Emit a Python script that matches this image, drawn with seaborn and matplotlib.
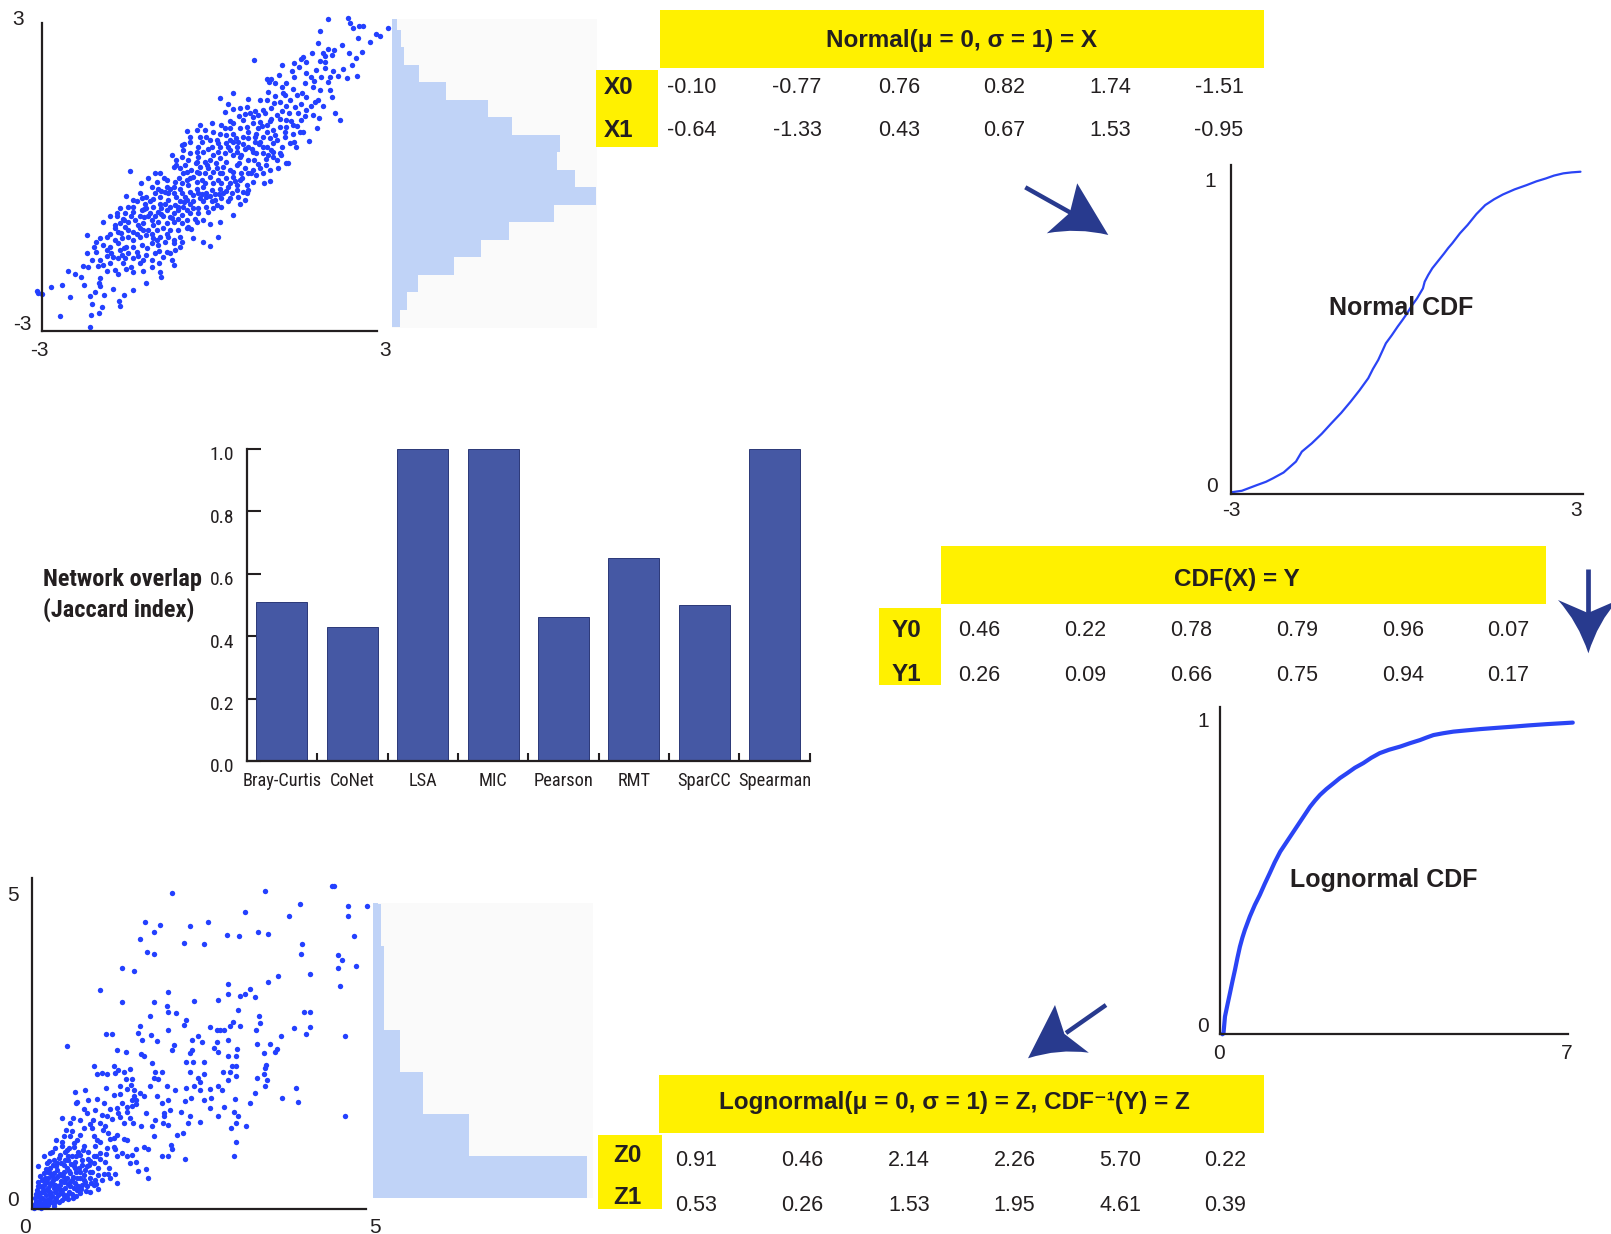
import matplotlib
matplotlib.use("Agg")
import matplotlib.pyplot as plt
from matplotlib import font_manager
from matplotlib.patches import Rectangle, PathPatch
from matplotlib.path import Path
import matplotlib.transforms as mtransforms
import numpy as np
import pandas as pd
import seaborn as sns

# ------------------------------------------------------------------ data
normal_x0 = [-0.10, -0.77, 0.76, 0.82, 1.74, -1.51]
normal_x1 = [-0.64, -1.33, 0.43, 0.67, 1.53, -0.95]
cdf_y0 = [0.46, 0.22, 0.78, 0.79, 0.96, 0.07]
cdf_y1 = [0.26, 0.09, 0.66, 0.75, 0.94, 0.17]
lognormal_z0 = [0.91, 0.46, 2.14, 2.26, 5.70, 0.22]
lognormal_z1 = [0.53, 0.26, 1.53, 1.95, 4.61, 0.39]

methods = ["Bray-Curtis", "CoNet", "LSA", "MIC", "Pearson", "RMT", "SparCC", "Spearman"]
overlap = [0.51, 0.43, 1.00, 1.00, 0.46, 0.65, 0.50, 1.00]

normal_cdf_x = [-3.00, -2.81, -2.55, -2.40, -2.28, -2.10, -1.89, -1.79, -1.62, -1.45, -1.29,
                -1.12, -0.96, -0.81, -0.66, -0.58, -0.49, -0.36, -0.26, -0.16, -0.08, 0.00,
                0.08, 0.17, 0.27, 0.30, 0.36, 0.43, 0.53, 0.63, 0.70, 0.77, 0.90, 1.03,
                1.18, 1.33, 1.48, 1.63, 1.83, 2.03, 2.20, 2.36, 2.50, 2.66, 2.80, 2.95]
normal_cdf_y = [0.000, 0.005, 0.023, 0.033, 0.044, 0.062, 0.096, 0.127, 0.153, 0.183, 0.215,
                0.248, 0.283, 0.318, 0.356, 0.385, 0.413, 0.465, 0.490, 0.517, 0.537, 0.558,
                0.582, 0.605, 0.636, 0.657, 0.678, 0.699, 0.722, 0.745, 0.762, 0.777, 0.808,
                0.834, 0.868, 0.896, 0.914, 0.929, 0.945, 0.958, 0.970, 0.979, 0.988, 0.995,
                0.998, 1.000]

lognormal_cdf_x = [0.05, 0.07, 0.10, 0.15, 0.20, 0.25, 0.30, 0.35, 0.40, 0.45, 0.50, 0.60,
                   0.70, 0.80, 0.90, 1.00, 1.10, 1.21, 1.31, 1.41, 1.51, 1.61, 1.71, 1.81,
                   1.91, 2.01, 2.14, 2.28, 2.41, 2.55, 2.71, 2.88, 3.04, 3.21, 3.40, 3.62,
                   3.82, 4.02, 4.15, 4.29, 4.49, 4.69, 4.95, 5.22, 5.55, 5.89, 6.20, 6.56, 7.09]
lognormal_cdf_y = [0.000, 0.003, 0.057, 0.095, 0.132, 0.170, 0.206, 0.245, 0.281, 0.310,
                   0.335, 0.378, 0.415, 0.447, 0.483, 0.517, 0.552, 0.586, 0.610, 0.634,
                   0.658, 0.682, 0.706, 0.730, 0.750, 0.768, 0.787, 0.805, 0.822, 0.837,
                   0.855, 0.870, 0.887, 0.902, 0.913, 0.923, 0.934, 0.944, 0.952, 0.960,
                   0.966, 0.971, 0.975, 0.979, 0.983, 0.987, 0.991, 0.995, 1.000]

# marginal histogram of X1 (bottom bin first)
normal_hist_edges = [-2.93, -2.59, -2.25, -1.92, -1.58, -1.24, -0.90, -0.57, -0.23, 0.11,
                     0.45, 0.78, 1.12, 1.46, 1.80, 2.13, 2.47, 2.81, 3.14]
normal_hist_counts = [5, 10, 17, 41, 59, 78, 108, 136, 122, 110, 112, 80, 64, 36, 18, 8, 6, 3]

# marginal histogram of Z1 (bottom bin first)
lognormal_hist_edges = [0.16, 0.79, 1.42, 2.05, 2.68, 3.31, 3.94, 4.57, 5.20]
lognormal_hist_counts = [429, 192, 99, 53, 21, 21, 15, 10]

# bivariate normal sample (X0, X1)
normal_points = [
    (2.00, 3.02), (2.35, 3.04), (2.37, 2.94), (2.42, 2.85), (2.54, 2.88), (2.61, 2.88), (3.04, 2.85),
    (1.85, 2.79), (2.83, 2.74), (2.90, 2.70), (2.52, 2.66), (2.73, 2.57), (1.82, 2.56), (2.23, 2.52),
    (2.00, 2.44), (2.10, 2.42),
    (1.71, 2.37), (1.90, 2.36), (2.36, 2.37), (2.59, 2.39), (1.94, 2.31), (2.07, 2.32), (1.56, 2.29),
    (0.71, 2.23), (1.53, 2.24), (2.48, 2.26), (1.62, 2.20), (1.40, 2.18), (1.19, 2.14), (1.85, 2.21),
    (2.41, 2.14), (1.49, 2.10), (1.94, 2.07), (1.78, 2.04), (1.37, 2.02), (2.08, 2.02), (1.62, 1.98),
    (2.16, 1.93), (2.02, 1.91), (1.88, 1.91), (2.49, 1.92), (2.32, 1.89), (0.93, 1.86), (1.01, 1.87),
    (0.97, 1.81), (1.75, 1.83), (1.26, 1.79), (1.59, 1.78), (1.07, 1.78), (2.03, 1.66),
    (1.19, 1.71), (1.73, 1.70), (1.38, 1.68), (1.22, 1.59), (0.96, 1.62), (1.07, 1.53), (1.33, 1.46),
    (1.46, 1.55), (1.62, 1.52), (1.82, 1.46), (2.06, 1.51), (0.35, 1.59), (0.12, 1.50), (0.81, 1.46),
    (0.93, 1.46), (1.16, 1.42), (1.27, 1.34), (1.42, 1.33), (1.53, 1.38), (1.77, 1.42), (1.91, 1.34),
    (2.11, 1.20), (0.46, 1.31), (0.35, 1.29), (0.58, 1.33), (0.21, 1.23), (0.64, 1.20), (0.87, 1.26),
    (1.01, 1.30), (1.10, 1.17), (1.32, 1.20), (1.62, 1.26), (1.73, 1.17), (0.69, 1.13), (0.78, 1.17),
    (2.20, 1.07), (1.84, 1.12), (1.81, 0.91), (1.66, 0.67), (1.41, 0.65), (1.44, 0.56), (1.20, 0.56),
    (-0.23, 0.97), (-0.03, 1.01), (-0.46, 0.86), (-0.55, 0.59), (-0.23, 0.75), (-0.12, 0.75),
    (0.06, 0.68), (0.14, 0.97), (0.29, 1.06), (0.46, 0.91), (0.58, 0.94), (0.69, 1.01), (0.81, 1.04),
    (0.93, 0.97), (1.04, 0.88), (1.16, 0.94), (1.27, 0.94), (1.39, 0.81), (1.53, 1.07), (1.56, 0.85),
    (0.35, 0.81), (0.52, 0.75), (0.75, 0.81), (0.87, 0.75), (0.98, 0.72), (1.10, 0.68), (1.33, 0.62),
    (0.09, 0.62), (0.23, 0.62), (0.41, 0.56), (0.61, 0.56), (0.72, 0.65), (0.87, 0.56), (1.01, 0.49),
    (-0.09, 0.52), (-0.26, 0.56), (0.00, 0.85), (0.23, 0.78), (-0.14, 0.88), (1.24, 0.75), (0.61, 0.85),
    (0.35, 1.01), (0.20, 0.91),
    (1.26, 0.25), (1.30, 0.25), (1.04, 0.35), (0.91, 0.31), (0.89, -0.15), (0.98, -0.10), (0.69, -0.12),
    (0.58, -0.18), (-0.72, 0.40), (-0.64, 0.30), (-0.49, 0.20), (-0.41, 0.43), (-0.26, 0.36),
    (-0.17, 0.46), (0.00, 0.40), (0.12, 0.33), (0.23, 0.27), (0.35, 0.40), (0.46, 0.36), (0.61, 0.30),
    (0.75, 0.43), (0.87, 0.43), (1.04, 0.46), (-0.38, 0.11), (-0.23, 0.17), (-0.09, 0.14), (0.06, 0.14),
    (0.17, 0.17), (0.29, 0.11), (0.41, 0.20), (0.55, 0.14), (0.69, 0.11), (0.81, 0.14), (-0.53, 0.04),
    (-0.35, -0.02), (-0.20, -0.09), (-0.06, -0.02), (0.09, -0.09), (0.23, -0.05), (0.35, -0.02),
    (0.46, -0.09), (-1.45, 0.09), (-1.01, 0.04), (-0.93, 0.04), (-1.13, -0.05), (-0.98, -0.12),
    (-0.81, -0.09), (-0.67, -0.12), (-0.55, -0.15),
    (-0.69, -0.22), (-0.58, -0.25), (-0.43, -0.18), (-0.29, -0.25), (-0.17, -0.22), (-0.03, -0.28),
    (0.12, -0.25), (0.26, -0.22), (0.41, -0.28), (0.52, -0.31), (0.61, -0.28), (-0.93, -0.41),
    (-0.78, -0.34), (-0.64, -0.41), (-0.49, -0.41), (-0.35, -0.38), (-0.23, -0.44), (-0.12, -0.41),
    (0.03, -0.47), (0.14, -0.44), (0.29, -0.44), (0.43, -0.41), (0.55, -0.47), (0.58, -0.34),
    (-1.16, -0.41), (-1.01, -0.34), (-1.51, -0.40), (-1.33, -0.50), (-1.19, -0.54), (-1.04, -0.60),
    (-0.93, -0.54), (-0.78, -0.47), (-0.67, -0.57), (-0.52, -0.60), (-0.41, -0.54), (-0.26, -0.63),
    (-0.12, -0.60), (0.06, -0.57), (0.14, -0.60), (0.26, -0.50), (0.46, -0.54), (0.35, -0.76),
    (-1.68, -0.73), (-1.53, -0.73), (-1.39, -0.70), (-1.24, -0.67), (-1.10, -0.73), (-0.96, -0.70),
    (-0.81, -0.67), (-0.69, -0.73), (-0.55, -0.76), (-0.41, -0.73), (-0.26, -0.73), (-0.09, -0.70),
    (-0.17, -0.86), (-0.32, -0.83), (-0.46, -0.86),
    (-1.91, -0.89), (-1.68, -0.79), (-1.62, -0.92), (-1.48, -0.89), (-1.36, -0.86), (-1.22, -0.92),
    (-1.07, -0.86), (-0.96, -0.89), (-0.81, -0.92), (-0.69, -0.89), (-0.55, -0.92), (-0.43, -0.99),
    (-0.29, -0.89), (-0.06, -0.94), (0.12, -0.89), (-1.71, -1.02), (-1.53, -0.99), (-1.39, -1.08),
    (-1.27, -1.02), (-1.13, -1.05), (-0.98, -1.05), (-0.87, -1.02), (-0.75, -1.05), (-0.61, -1.05),
    (-0.46, -1.02), (-0.38, -1.04), (-0.58, -1.18), (-0.69, -1.24), (-1.97, -1.21), (-1.85, -1.18),
    (-1.71, -1.24), (-1.59, -1.21), (-1.48, -1.18), (-1.33, -1.12), (-1.16, -1.15), (-1.04, -1.21),
    (-0.93, -1.18), (-0.81, -1.12), (-0.35, -1.21), (-0.17, -1.28), (-0.06, -1.36), (0.09, -1.18),
    (-2.20, -1.15), (-1.91, -1.34), (-1.80, -1.37), (-1.65, -1.31), (-1.51, -1.37), (-1.39, -1.37),
    (-1.24, -1.34), (-1.07, -1.31), (-0.96, -1.34), (-0.84, -1.28), (-0.69, -1.31), (-0.58, -1.37),
    (-0.55, -1.28),
    (-2.20, -1.50), (-2.03, -1.47), (-1.85, -1.44), (-1.74, -1.57), (-1.59, -1.53), (-1.48, -1.50),
    (-1.33, -1.47), (-1.16, -1.53), (-1.01, -1.50), (-0.87, -1.57), (-0.81, -1.47), (-0.67, -1.44),
    (-2.11, -1.63), (-2.26, -1.74), (-2.17, -1.76), (-1.97, -1.63), (-1.91, -1.73), (-1.80, -1.69),
    (-1.65, -1.60), (-1.56, -1.69), (-1.42, -1.76), (-1.27, -1.69), (-1.07, -1.76), (-0.94, -1.69),
    (-0.72, -1.63), (-0.69, -1.73), (-2.52, -1.85), (-2.40, -1.90), (-1.85, -1.85), (-1.71, -1.82),
    (-1.51, -1.81), (-1.39, -1.87), (-1.22, -1.85), (-0.93, -1.87), (-0.90, -1.96), (-1.16, -2.08),
    (-1.97, -1.98),
    (-3.07, -2.23), (-2.98, -2.29), (-2.81, -2.16), (-2.62, -2.11), (-2.49, -2.34), (-2.24, -2.11),
    (-2.14, -2.32), (-1.98, -2.08), (-1.97, -2.14), (-1.90, -2.31), (-1.74, -2.18), (-1.55, -2.31),
    (-1.39, -2.20), (-1.64, -2.43), (-1.62, -2.52), (-1.94, -2.53), (-2.11, -2.48), (-1.98, -2.65),
    (-2.13, -2.70), (-2.66, -2.72), (-2.14, -2.93), (-3.04, -2.26),
    (-0.41, 0.65), (-0.29, 0.88), (-0.20, 0.65), (-0.06, 0.68), (0.12, 0.56), (0.29, 0.68), (0.43, 0.65),
    (0.55, 0.52), (0.69, 0.46), (0.81, 0.65), (0.93, 0.56), (1.04, 0.62), (1.16, 0.43), (0.29, 0.49),
    (0.41, 0.46), (0.49, 0.40), (0.09, 0.46), (0.20, 0.43), (-0.06, 0.30), (-0.14, 0.27), (-0.29, 0.27),
    (-0.43, 0.30), (-0.55, 0.36), (-0.69, 0.17), (-0.58, 0.14), (-0.46, 0.07), (-0.29, 0.07),
    (-0.14, 0.04), (0.00, 0.07), (0.12, 0.04), (0.35, 0.07), (0.49, 0.04), (0.61, 0.04), (0.75, 0.01),
    (0.87, 0.04), (0.98, 0.11), (-0.46, -0.09), (-0.29, -0.12), (-0.14, -0.15), (0.00, -0.15),
    (0.14, -0.15), (0.29, -0.15), (0.41, -0.18), (-0.81, -0.22), (-0.96, -0.25), (-1.07, -0.22),
    (-0.84, -0.31), (-0.69, -0.33), (-0.55, -0.33), (-0.41, -0.31), (-0.26, -0.33), (-0.12, -0.34),
    (0.03, -0.36), (0.17, -0.34), (0.32, -0.34), (-1.27, -0.34), (-1.39, -0.47), (-1.24, -0.44),
    (-1.10, -0.50), (-0.84, -0.54), (-0.58, -0.50), (-0.46, -0.47), (-0.17, -0.50), (-0.03, -0.50),
    (-1.16, -0.63), (-0.90, -0.63), (-0.75, -0.60), (-0.61, -0.67), (-0.46, -0.67), (-0.35, -0.63),
    (0.00, -0.63), (-1.62, -0.63), (-1.48, -0.60), (-1.80, -0.79), (-1.56, -0.83), (-1.42, -0.79),
    (-1.27, -0.79), (-1.13, -0.79), (-1.01, -0.79), (-0.87, -0.79), (-0.72, -0.81), (-0.61, -0.83),
    (-1.27, -1.18), (-1.22, -1.05), (-1.07, -1.12), (-1.80, -1.12), (-1.65, -1.08), (-1.48, -1.05),
    (-0.98, -1.24), (-0.78, -1.18), (-2.03, -1.28), (-1.77, -1.50), (-1.62, -1.44), (-1.39, -1.60),
    (-1.22, -1.63), (-1.07, -1.63), (-2.08, -1.37), (-1.53, -1.60), (0.61, 0.72), (0.72, 0.75),
    (1.07, 0.78), (0.78, 0.91), (0.52, 1.07), (0.93, 0.85), (1.24, 0.85), (0.29, 0.91), (0.12, 0.81),
    (-0.03, 0.56), (0.35, 0.65), (-0.29, 0.46), (-0.52, 0.49), (1.16, 1.10), (1.27, 1.07), (1.01, 1.10),
    (1.39, 0.97), (1.48, 1.20), (1.51, 0.85),
    (-1.30, -0.95), (-1.20, -0.80), (-1.05, -0.95), (-0.90, -0.75), (-0.75, -0.80), (-0.62, -0.60),
    (-0.50, -0.52), (-0.35, -0.50), (-0.20, -0.35), (-0.05, -0.40), (0.10, -0.35), (0.22, -0.30),
    (0.38, -0.10), (0.50, -0.05), (0.65, 0.05), (0.78, 0.22), (0.92, 0.20), (1.10, 0.30), (1.18, 0.40),
    (0.68, 0.52), (0.52, 0.60), (0.40, 0.72), (0.25, 0.55), (0.05, 0.25), (-0.10, 0.20), (-0.25, 0.05),
    (-0.40, -0.05), (-0.60, -0.05), (-0.75, -0.25), (-0.90, -0.30), (-1.05, -0.45), (-1.20, -0.65),
    (-1.40, -0.60), (-1.55, -0.85), (-1.70, -0.95), (-1.60, -1.10), (-1.40, -1.25), (-1.15, -1.40),
    (-0.95, -1.45), (-0.75, -1.50), (-1.30, -1.55), (-1.55, -1.40), (-1.85, -1.55), (-2.00, -1.75),
    (-1.65, -1.90), (-2.30, -1.95), (-2.05, -2.25), (0.85, 0.95), (0.98, 1.05), (1.20, 1.25),
    (1.35, 1.05), (1.45, 0.95), (1.60, 1.15), (1.70, 1.35), (1.55, 1.60), (1.25, 1.55), (1.05, 1.40),
    (0.90, 1.20), (0.72, 1.25), (0.55, 1.18), (1.85, 1.65), (2.00, 1.80), (2.25, 2.05), (1.95, 2.20),
    (1.70, 1.90), (1.40, 1.90), (1.15, 1.95), (0.80, 0.60), (0.95, 0.40), (1.12, 0.15), (0.70, 0.30),
    (0.45, 0.25), (0.15, 0.05), (-0.30, 0.25), (-0.65, 0.20), (-0.85, -0.05), (-1.25, -0.15),
    (-0.50, 0.60), (-0.40, 0.75), (0.45, 1.15), (0.60, 1.48), (0.25, 1.38),
]

# bivariate lognormal sample (Z0, Z1)
lognormal_points = [
    (2.09, 4.74), (3.49, 4.77), (4.50, 4.84), (4.53, 4.85), (4.01, 4.57), (4.73, 4.55), (5.02, 4.54),
    (3.19, 4.45), (3.85, 4.39), (4.74, 4.39), (1.69, 4.31), (1.91, 4.26), (1.82, 4.16), (2.37, 4.25),
    (2.63, 4.31), (2.92, 4.11), (3.10, 4.10), (3.38, 4.15), (3.54, 4.13), (4.83, 4.09), (1.61, 4.05),
    (2.28, 3.99), (2.58, 3.98), (4.04, 3.98), (4.03, 3.83), (1.72, 3.85), (1.82, 3.82), (4.59, 3.81),
    (4.64, 3.73), (4.59, 3.61), (4.86, 3.65), (1.34, 3.61), (1.52, 3.57), (4.17, 3.53), (4.62, 3.35),
    (1.01, 3.28), (1.34, 3.10), (1.82, 3.10), (2.03, 3.25), (3.54, 3.41), (3.69, 3.49), (3.26, 3.30),
    (3.19, 3.23), (3.34, 3.18), (3.11, 3.19), (2.94, 3.37), (2.94, 3.23), (2.79, 3.13), (2.43, 3.12),
    (2.02, 3.04), (2.16, 2.94), (1.76, 2.90), (2.04, 2.95), (2.27, 2.76), (2.31, 2.83), (2.03, 2.69),
    (1.61, 2.74), (1.59, 2.64), (1.64, 2.54), (1.78, 2.61), (1.87, 2.52), (1.19, 2.62), (1.11, 2.63),
    (0.52, 2.45), (1.27, 2.39), (1.41, 2.35), (1.63, 2.32), (1.68, 2.29), (2.09, 2.39), (2.12, 2.46),
    (2.40, 2.53), (2.49, 2.59), (2.54, 2.50), (2.39, 2.39), (2.37, 2.34), (2.67, 2.73), (2.77, 2.69),
    (2.82, 2.69), (2.88, 2.69), (2.96, 2.75), (3.01, 2.81), (3.11, 2.74), (3.36, 2.68), (3.41, 2.79),
    (3.40, 2.89), (3.09, 2.99), (4.08, 2.96), (4.17, 2.96), (3.92, 2.71), (4.16, 2.73), (4.11, 2.62),
    (4.69, 2.59), (3.73, 2.60), (3.67, 2.40), (3.64, 2.36), (3.56, 2.48), (3.37, 2.48), (3.48, 2.34),
    (3.07, 2.40), (3.06, 2.29), (2.94, 2.53), (2.77, 2.50), (2.72, 2.41), (2.79, 2.35), (2.93, 2.30),
    (2.99, 2.15), (3.06, 2.15), (2.30, 2.21), (2.41, 2.20), (2.57, 2.21), (2.37, 2.05), (2.58, 2.03),
    (2.49, 1.96), (1.79, 2.19), (1.84, 2.06), (1.94, 2.06), (1.82, 1.96), (1.89, 1.95), (1.76, 1.84),
    (2.02, 1.85), (2.14, 1.78), (2.30, 1.81), (2.42, 1.84), (2.52, 1.90), (2.51, 1.79), (2.38, 1.66),
    (2.29, 1.62), (2.57, 1.64), (2.67, 1.80), (2.79, 1.84), (2.86, 2.05), (2.94, 1.93), (2.97, 2.05),
    (3.06, 2.00), (2.84, 1.79), (2.68, 1.66), (2.67, 1.51), (3.04, 1.65), (2.88, 1.53), (2.78, 1.39),
    (3.02, 1.45), (3.09, 1.40), (2.98, 1.21), (3.06, 1.29), (3.21, 1.25), (3.06, 1.01), (3.02, 0.79),
    (3.34, 1.74), (3.37, 1.96), (3.49, 2.11), (3.48, 2.03), (3.51, 2.16), (3.52, 1.93), (3.49, 1.85),
    (3.27, 1.59), (3.74, 1.66), (3.95, 1.81), (3.98, 1.61), (4.69, 1.39), (2.23, 1.46), (2.37, 1.40),
    (2.34, 1.29), (2.26, 1.14), (2.17, 1.11), (2.08, 0.96), (2.10, 0.90), (2.04, 0.80), (1.94, 0.80),
    (2.29, 0.75), (2.52, 1.31), (1.79, 1.25), (1.71, 1.44), (1.63, 1.24), (1.51, 1.29), (1.42, 1.45),
    (1.42, 1.53), (1.49, 1.54), (1.56, 1.58), (1.67, 1.69), (1.62, 1.74), (1.87, 1.69), (1.95, 1.59),
    (2.03, 1.64), (2.07, 1.49), (1.97, 1.44), (1.98, 1.39), (2.04, 1.26), (1.96, 1.29), (1.84, 1.34),
    (1.82, 1.09), (1.74, 0.90), (1.67, 0.93), (1.56, 0.90), (1.49, 0.81), (1.56, 0.70), (1.70, 0.60),
    (1.73, 0.46), (1.58, 0.57), (1.47, 0.69), (1.42, 0.79), (1.34, 0.84), (1.27, 0.79), (1.22, 0.93),
    (1.22, 1.07), (1.17, 1.05), (1.13, 1.14), (1.06, 1.19), (1.27, 1.11), (1.37, 1.05), (1.42, 1.04),
    (1.24, 0.90), (1.12, 0.91), (1.02, 1.00), (0.97, 1.04), (0.89, 1.21), (0.86, 1.28), (0.77, 1.21),
    (0.72, 1.11), (0.67, 1.04), (0.63, 0.93), (0.76, 0.88), (0.84, 0.85), (0.94, 0.94), (1.02, 0.84),
    (1.02, 0.75), (0.93, 0.69), (0.82, 0.65), (0.86, 0.56), (0.99, 0.51), (1.04, 0.44), (1.13, 0.53),
    (1.24, 0.53), (1.27, 0.39), (1.17, 0.46), (0.99, 0.30), (0.86, 0.26), (0.72, 0.24), (0.61, 0.16),
    (0.69, 0.34), (0.78, 0.44), (0.72, 0.56), (0.62, 0.64), (0.49, 0.73), (0.42, 0.81), (0.32, 0.74),
    (0.22, 0.69), (0.17, 0.54), (0.09, 0.41), (0.12, 0.34), (0.22, 0.29), (0.32, 0.31), (0.42, 0.36),
    (0.52, 0.46), (0.59, 0.44), (0.39, 0.21), (0.27, 0.16), (0.17, 0.14), (0.07, 0.09), (0.04, 0.04),
    (0.12, 0.06), (0.19, 0.11), (0.32, 0.09), (0.47, 0.16), (0.52, 0.21), (0.44, 0.14), (0.67, 0.29),
    (0.57, 0.54), (0.47, 0.56), (0.37, 0.59), (0.27, 0.61), (0.39, 0.49), (0.29, 0.41), (0.24, 0.46),
    (0.14, 0.26), (0.08, 0.20), (0.04, 0.16), (0.44, 0.95), (0.44, 1.36), (0.61, 1.36), (0.66, 1.59),
    (0.64, 1.76), (0.67, 1.61), (0.79, 1.79), (0.83, 1.64), (0.93, 2.14), (0.97, 2.03), (1.04, 2.04),
    (1.12, 2.03), (1.22, 2.14), (1.24, 2.04), (1.29, 2.08), (1.37, 2.06), (1.47, 2.10), (1.49, 1.95),
    (1.48, 1.86), (1.40, 1.95), (1.31, 1.84), (1.11, 1.81), (1.22, 1.71), (1.32, 1.73), (1.42, 1.80),
    (1.52, 1.79), (1.52, 1.69), (1.56, 1.64), (1.49, 1.63), (1.35, 1.59), (1.27, 1.51), (1.17, 1.50),
    (1.07, 1.59), (0.97, 1.65), (0.94, 1.48), (0.91, 1.33), (1.04, 1.41), (1.12, 1.39), (1.19, 1.35),
    (1.28, 1.44), (1.32, 1.38), (1.38, 1.29), (1.46, 1.36), (1.02, 1.29), (1.09, 1.25), (0.72, 1.33),
    (0.57, 1.29), (0.51, 1.19), (0.57, 1.09), (0.62, 0.99), (0.52, 0.89), (0.34, 0.91), (0.47, 1.10),
    (0.36, 1.04), (0.27, 0.84), (0.17, 0.79), (0.09, 0.64), (0.77, 1.50), (0.82, 1.44),
    (0.06, 0.11), (0.09, 0.08), (0.14, 0.16), (0.21, 0.21), (0.26, 0.26), (0.34, 0.26), (0.41, 0.29),
    (0.49, 0.31), (0.57, 0.34), (0.64, 0.39), (0.74, 0.36), (0.82, 0.34), (0.92, 0.36), (0.11, 0.24),
    (0.17, 0.36), (0.26, 0.36), (0.34, 0.36), (0.47, 0.41), (0.57, 0.40), (0.67, 0.46), (0.77, 0.51),
    (0.87, 0.46), (0.94, 0.44), (0.07, 0.29), (0.14, 0.44), (0.23, 0.56), (0.32, 0.54), (0.44, 0.51),
    (0.52, 0.61), (0.64, 0.71), (0.74, 0.74), (0.83, 0.75), (0.92, 0.79), (0.72, 0.81), (0.59, 0.79),
    (0.49, 0.85), (0.54, 0.74), (0.37, 0.69), (0.27, 0.54), (0.19, 0.39), (0.02, 0.06), (0.08, 0.03),
    (0.16, 0.04), (0.24, 0.06), (0.34, 0.14), (0.42, 0.24),
    (0.03, 0.02), (0.05, 0.10), (0.10, 0.12), (0.13, 0.02), (0.20, 0.05), (0.22, 0.14), (0.28, 0.10),
    (0.30, 0.20), (0.36, 0.17), (0.11, 0.18), (0.16, 0.26), (0.24, 0.31), (0.06, 0.22), (0.19, 0.47),
    (0.31, 0.44), (0.38, 0.35), (0.44, 0.28), (0.49, 0.44), (0.55, 0.25), (0.61, 0.48), (0.66, 0.55),
    (0.70, 0.62), (0.47, 0.66), (0.41, 0.52), (0.12, 0.50), (0.09, 0.35), (0.35, 0.64), (0.58, 0.68),
    (0.79, 0.58), (0.85, 0.66), (0.40, 0.77), (0.55, 0.91), (0.68, 0.86), (0.25, 0.72),
    (0.15, 0.08), (0.25, 0.13), (0.33, 0.05), (0.40, 0.11), (0.46, 0.22), (0.53, 0.15), (0.60, 0.23),
    (0.66, 0.20), (0.73, 0.30), (0.80, 0.27), (0.88, 0.39), (0.96, 0.37), (1.08, 0.52), (1.15, 0.61),
    (0.18, 0.28), (0.27, 0.23), (0.35, 0.30), (0.43, 0.42), (0.53, 0.37), (0.62, 0.32), (0.71, 0.46),
    (0.79, 0.41), (0.90, 0.55), (0.98, 0.62), (1.09, 0.70), (0.14, 0.33), (0.22, 0.40), (0.29, 0.49),
    (0.36, 0.46), (0.46, 0.50), (0.55, 0.57), (0.64, 0.62), (0.75, 0.66), (0.86, 0.72), (0.96, 0.80),
    (1.10, 0.82), (0.20, 0.60), (0.31, 0.66), (0.43, 0.69), (0.53, 0.80), (0.66, 0.79), (0.78, 0.94),
    (0.92, 1.10), (0.30, 0.86), (0.45, 1.01), (0.60, 1.17),
]

# ------------------------------------------------------------------ style
W, H = 1611, 1234
INK = "#231f20"
DOT = "#2340ff"
LINE = "#2a44f5"
HIST = "#c0d3f7"
BAR = "#4558a4"
YELLOW = "#fff100"
ARROW = "#283a8e"

sns.set_style("white")
avail = {f.name for f in font_manager.fontManager.ttflist}
SANS = "Liberation Sans" if "Liberation Sans" in avail else "DejaVu Sans"
NARROW = next((n for n in ["Liberation Sans Narrow", "DejaVu Sans Condensed", "Roboto Condensed"]
               if n in avail), None)
NS = 1.0
if NARROW is None:
    NARROW, NS = SANS, 0.86
REG = [SANS, "DejaVu Sans"]
NAR = [NARROW, "DejaVu Sans"]
plt.rcParams["font.family"] = REG

fig = plt.figure(figsize=(W / 100, H / 100), dpi=100)
fig.patch.set_facecolor("white")


def px_axes(l, t, r, b):
    return fig.add_axes([l / W, 1 - b / H, (r - l) / W, (b - t) / H])


def plain_axes(ax):
    ax.set_xticks([])
    ax.set_yticks([])
    ax.set_xlabel("")
    ax.set_ylabel("")
    for side in ("top", "right"):
        ax.spines[side].set_visible(False)
    for side in ("left", "bottom"):
        ax.spines[side].set_color(INK)
        ax.spines[side].set_linewidth(1.6)
    ax.set_facecolor("none")


def hist_axes(ax):
    ax.set_xticks([])
    ax.set_yticks([])
    ax.set_xlabel("")
    ax.set_ylabel("")
    for s in ax.spines.values():
        s.set_visible(False)
    ax.set_facecolor("#fafafa")


# ---- normal scatter + marginal
nd = pd.DataFrame(normal_points, columns=["x0", "x1"])
ax1 = px_axes(41.7, 22.7, 376.7, 331)
sns.scatterplot(data=nd, x="x0", y="x1", ax=ax1, color=DOT, s=15, linewidth=0, clip_on=False)
ax1.set_xlim(-2.98, 2.84)
ax1.set_ylim(-3.0, 2.95)
plain_axes(ax1)

axh1 = px_axes(392.3, 19, 597, 328.3)
nc = [(a + b) / 2 for a, b in zip(normal_hist_edges[:-1], normal_hist_edges[1:])]
sns.histplot(y=nc, weights=normal_hist_counts, bins=normal_hist_edges, ax=axh1,
             color=HIST, alpha=1, linewidth=0)
axh1.set_ylim(-2.948, 3.019)
axh1.set_xlim(0, 136.7)
hist_axes(axh1)

# ---- lognormal scatter + marginal
ld = pd.DataFrame(lognormal_points, columns=["z0", "z1"])
ax2 = px_axes(32.3, 878.3, 365.7, 1209)
sns.scatterplot(data=ld, x="z0", y="z1", ax=ax2, color=DOT, s=15, linewidth=0, clip_on=False)
ax2.set_xlim(0, 5.0)
ax2.set_ylim(0, 4.96)
plain_axes(ax2)

axh2 = px_axes(373, 902.7, 593.3, 1198.3)
lc = [(a + b) / 2 for a, b in zip(lognormal_hist_edges[:-1], lognormal_hist_edges[1:])]
sns.histplot(y=lc, weights=lognormal_hist_counts, bins=lognormal_hist_edges, ax=axh2,
             color=HIST, alpha=1, linewidth=0)
axh2.set_ylim(0.16, 4.59)
axh2.set_xlim(0, 440.6)
hist_axes(axh2)

# ---- CDF curves
ax3 = px_axes(1230.7, 165, 1583.4, 494.3)
sns.lineplot(x=normal_cdf_x, y=normal_cdf_y, ax=ax3, color=LINE, linewidth=1.6,
             estimator=None, sort=False)
ax3.set_xlim(-3, 3)
ax3.set_ylim(-0.006, 1.021)
plain_axes(ax3)

ax4 = px_axes(1220, 706.7, 1568.3, 1034.3)
sns.lineplot(x=lognormal_cdf_x, y=lognormal_cdf_y, ax=ax4, color=LINE, linewidth=3.0,
             estimator=None, sort=False, clip_on=False)
ax4.set_xlim(0, 7)
ax4.set_ylim(0, 1.051)
plain_axes(ax4)

# ---- network overlap bars
axb = px_axes(246.8, 449, 809.6, 761)
sns.barplot(x=methods, y=overlap, ax=axb, color=BAR, saturation=1, width=0.725,
            edgecolor="#2b3878", linewidth=0.7)
axb.set_xlim(-0.5, 7.5)
axb.set_ylim(0, 1.0)
axb.set_xlabel("")
axb.set_ylabel("")
for side in ("top", "right"):
    axb.spines[side].set_visible(False)
for side in ("left", "bottom"):
    axb.spines[side].set_color(INK)
    axb.spines[side].set_linewidth(1.6)
yt = [0.0, 0.2, 0.4, 0.6, 0.8, 1.0]
axb.set_yticks(yt, labels=[f"{v:.1f}" for v in yt], family=NAR, fontsize=14 * NS, color=INK)
axb.set_xticks(range(len(methods)), labels=methods, family=NAR, fontsize=13.2 * NS, color=INK)
axb.set_xticks(np.arange(0.5, len(methods), 1), minor=True)
axb.tick_params(axis="y", which="major", direction="in", length=10, width=1.5, color=INK, pad=9,
                left=True)
axb.tick_params(axis="x", which="major", length=0, pad=8, bottom=True)
axb.tick_params(axis="x", which="minor", direction="in", length=6, width=1.5, color=INK,
                bottom=True)
shift = mtransforms.ScaledTranslation(0, -4.5 / 100, fig.dpi_scale_trans)
for lab in axb.get_yticklabels():
    lab.set_transform(lab.get_transform() + shift)

# ------------------------------------------------------------------ overlay: tables, labels, arrows
ov = fig.add_axes([0, 0, 1, 1])
ov.set_xlim(0, W)
ov.set_ylim(H, 0)
ov.axis("off")
ov.patch.set_visible(False)


def put(x, y, s, size, family=REG, weight="normal", ha="center"):
    em = size * 100 / 72
    ov.text(x, y + 0.36 * em, s, fontsize=size, family=family, fontweight=weight,
            ha=ha, va="baseline", color=INK)


def box(l, t, r, b):
    ov.add_patch(Rectangle((l, t), r - l, b - t, facecolor=YELLOW, edgecolor="none"))


def table(header, hx, hy, hbox, rbox, labels, lx, ly, rows, xs, ys):
    box(*hbox)
    box(*rbox)
    put(hx, hy, header, 17.5, weight="bold")
    for lab, yy in zip(labels, ly):
        put(lx, yy, lab, 17.5, weight="bold")
    for vals, yy in zip(rows, ys):
        for v, xx in zip(vals, xs):
            put(xx, yy, f"{v:.2f}", 15.5)


table("Normal(\u03bc = 0, \u03c3 = 1) = X", 961, 38.5, (659.5, 10, 1264, 68), (596, 70, 658, 147.3),
      ["X0", "X1"], 619, [85, 128.3], [normal_x0, normal_x1],
      [692, 797, 899.5, 1004.5, 1110.5, 1219], [85, 128.3])
table("CDF(X) = Y", 1237, 577, (941, 545.5, 1546, 604.3), (878.5, 607.7, 941, 685),
      ["Y0", "Y1"], 906, [628, 672], [cdf_y0, cdf_y1],
      [979.5, 1085.5, 1191, 1297, 1403, 1508], [628, 673.5])
table("Lognormal(\u03bc = 0, \u03c3 = 1) = Z, CDF\u207b\u00b9(Y) = Z", 954, 1100,
      (659, 1074.5, 1263.5, 1133.3), (597.8, 1135, 662.4, 1209.3),
      ["Z0", "Z1"], 627, [1153, 1195], [lognormal_z0, lognormal_z1],
      [696.5, 802.5, 909, 1014.5, 1120, 1225.5], [1158.3, 1203.3])

# axis end labels
for x, y, s in [(18.5, 17.5, "3"), (22, 323, "-3"), (39.5, 348.3, "-3"), (385.5, 348.3, "3"),
                (13.4, 893.5, "5"), (13.4, 1199, "0"), (25.5, 1225.7, "0"), (375, 1225.7, "5"),
                (1210.5, 179.3, "1"), (1211.6, 485, "0"), (1231.5, 508, "-3"), (1576, 508, "3"),
                (1203.5, 719.3, "1"), (1202.7, 1025, "0"), (1219, 1051.5, "0"), (1566.7, 1051.5, "7")]:
    put(x, y, s, 15)

put(1401.4, 306, "Normal CDF", 18, weight="bold")
put(1383.3, 878.3, "Lognormal CDF", 18, weight="bold")
put(42.8, 577.4, "Network overlap", 17.5 * NS, family=NAR, weight="bold", ha="left")
put(42.8, 608, "(Jaccard index)", 17.5 * NS, family=NAR, weight="bold", ha="left")


def arrow(shaft, tip, a, notch, b, ctrl_a=None, ctrl_b=None, lw=3.2):
    ov.plot([shaft[0][0], shaft[1][0]], [shaft[0][1], shaft[1][1]], color=ARROW, lw=lw,
            solid_capstyle="butt")
    verts = [tip]
    codes = [Path.MOVETO]
    if ctrl_a is None:
        verts += [a]
        codes += [Path.LINETO]
    else:
        verts += [ctrl_a, a]
        codes += [Path.CURVE3, Path.CURVE3]
    verts += [notch, b]
    codes += [Path.LINETO, Path.LINETO]
    if ctrl_b is None:
        verts += [tip]
        codes += [Path.LINETO]
    else:
        verts += [ctrl_b, tip]
        codes += [Path.CURVE3, Path.CURVE3]
    verts += [tip]
    codes += [Path.CLOSEPOLY]
    ov.add_patch(PathPatch(Path(verts, codes), facecolor=ARROW, edgecolor="none"))


arrow(((1025.3, 187.3), (1072, 213.5)), (1108.3, 235), (1077.2, 183.3), (1069.8, 212.8),
      (1046.8, 233.3), ctrl_b=(1077.5, 227.5))
arrow(((1587.5, 569), (1587.5, 614)), (1588.4, 653.3), (1558, 600), (1588, 613), (1618, 600),
      ctrl_a=(1578, 622), ctrl_b=(1598, 622), lw=3.4)
arrow(((1106, 1005), (1066, 1033)), (1028, 1058.3), (1055, 1005), (1064.4, 1033.9),
      (1088.8, 1052.7), ctrl_b=(1058.4, 1048.5))

fig.savefig("out.png", dpi=100, facecolor="white")
